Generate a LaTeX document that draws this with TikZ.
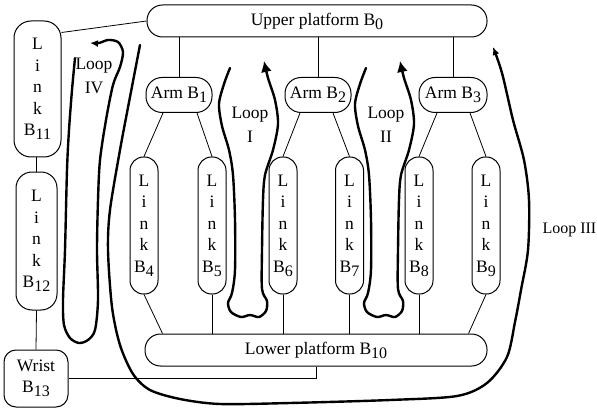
\documentclass[tikz,border=0pt]{standalone}
\usepackage{fontspec}
\setmainfont{Liberation Serif}
\usetikzlibrary{arrows.meta,calc}
\newcommand{\lidx}[1]{\raisebox{-4pt}{\fontsize{16}{16}\selectfont #1}}
\begin{document}
\begin{tikzpicture}[x=1pt,y=-1pt, font=\fontsize{17.5}{21.5}\selectfont,
  box/.style={draw, line width=1pt, inner sep=0pt, align=center},
  linkbox/.style={box, minimum width=28pt, minimum height=137pt, rounded corners=13.5pt},
  armbox/.style={box, minimum height=35pt, rounded corners=16pt},
  plat/.style={box, minimum height=32pt, rounded corners=15.5pt},
  conn/.style={line width=0.8pt},
  loopline/.style={line width=2.4pt, line cap=round, line join=round},
  looplab/.style={align=center, font=\fontsize{17.5}{24}\selectfont}]
\useasboundingbox (0,0) rectangle (597,409);

% platforms
\node[plat, minimum width=340pt] (up) at (317,21) {Upper platform B\lidx{0}};
\node[plat, minimum width=342pt] (low) at (316,350) {Lower platform B\lidx{10}};

% arms
\node[armbox, minimum width=66pt] (a1) at (179,95) {Arm B\lidx{1}};
\node[armbox, minimum width=66pt] (a2) at (318,95) {Arm B\lidx{2}};
\node[armbox, minimum width=68pt] (a3) at (453,95) {Arm B\lidx{3}};

% links
\node[linkbox] (l4) at (144,225.5) {L\\i\\n\\k\\B\lidx{4}};
\node[linkbox] (l5) at (212,225.5) {L\\i\\n\\k\\B\lidx{5}};
\node[linkbox] (l6) at (283,225.5) {L\\i\\n\\k\\B\lidx{6}};
\node[linkbox] (l7) at (349.5,225.5) {L\\i\\n\\k\\B\lidx{7}};
\node[linkbox] (l8) at (419,225.5) {L\\i\\n\\k\\B\lidx{8}};
\node[linkbox] (l9) at (486,225.5) {L\\i\\n\\k\\B\lidx{9}};

\node[linkbox, minimum width=47pt, minimum height=136pt, rounded corners=17pt] (l11) at (37.5,89) {L\\i\\n\\k\\B\lidx{11}};
\node[linkbox, minimum width=41pt, minimum height=138pt, rounded corners=16pt] (l12) at (36.5,241) {L\\i\\n\\k\\B\lidx{12}};
\node[box, minimum width=64pt, minimum height=57pt, rounded corners=12pt] (w) at (36,378.5) {Wrist\\B\lidx{13}};

% connectors
\foreach \a in {a1,a2,a3} \draw[conn] (\a.north) -- (\a.north |- up.south);
\draw[conn] ($(a1.south)+(-16,0)$) -- (l4.north);
\draw[conn] ($(a1.south)+(18,0)$) -- (l5.north);
\draw[conn] ($(a2.south)+(-18,0)$) -- (l6.north);
\draw[conn] ($(a2.south)+(15,0)$) -- (l7.north);
\draw[conn] ($(a3.south)+(-16,0)$) -- (l8.north);
\draw[conn] ($(a3.south)+(17,0)$) -- (l9.north);

\draw[conn] (l4.south) -- ($(low.north west)+(18,0)$);
\foreach \l in {l5,l6,l7,l8} \draw[conn] (\l.south) -- (\l.south |- low.north);
\draw[conn] (l9.south) -- ($(low.north east)+(-19,0)$);

\draw[conn] (l12.north |- l11.south) -- (l12.north);
\draw[conn] (l12.south) -- (w.north);
\draw[conn] (up.west) -- ($(l11.north east)+(0,12)$);
\draw[conn] (w.east) -| (low.south);

% loops I and II
\foreach \dx in {0,136}{
\draw[loopline, shift={(\dx,0)}, -{Latex[length=11pt,width=11pt]}] plot[smooth, tension=0.5] coordinates {
 (230,68) (224,84) (219,104) (222,126) (229,150) (233,175) (235,220) (235,270)
 (232,293) (228,303) (231,312) (241,317) (250,315) (259,317) (266,311) (267,301)
 (262,289) (262,250) (263,200) (265,175) (273,150) (278,124) (275,100) (268,78) (264,61)};
}
% loop IV
\draw[loopline, -{Latex[length=8pt,width=7pt]}] plot[smooth, tension=0.5] coordinates {
 (75,58) (72,90) (69,130) (67,170) (65,250) (63,300) (64,325) (70,338) (79,343)
 (88,340) (95,330) (98,300) (97,250) (98,200) (100,160) (106,120) (113,85) (120,67)
 (123,52) (118,42) (108,40) (99,43) (90,43)};
% loop III
\draw[loopline, -{Latex[length=8pt,width=7pt]}] plot[smooth, tension=0.5] coordinates {
 (140,45) (130,97) (120,150) (110,210) (108,250) (112,307) (120,345) (133,374)
 (150,390) (180,399) (220,404) (290,403) (390,400) (457,396) (487,383) (507,357)
 (515,322) (521,290) (528,250) (529,200) (524,160) (513,120) (502,73) (493,47)};

% labels
\node[looplab] (labIV) at (94,76) {Loop\\IV};
\node[looplab] (labI) at (250,125) {Loop\\I};
\node[looplab] (labII) at (386,125) {Loop\\II};
\node[looplab, font=\fontsize{16}{20}\selectfont, anchor=east, inner sep=0.5pt] (labIII) at (597,230) {Loop III};
\end{tikzpicture}
\end{document}
